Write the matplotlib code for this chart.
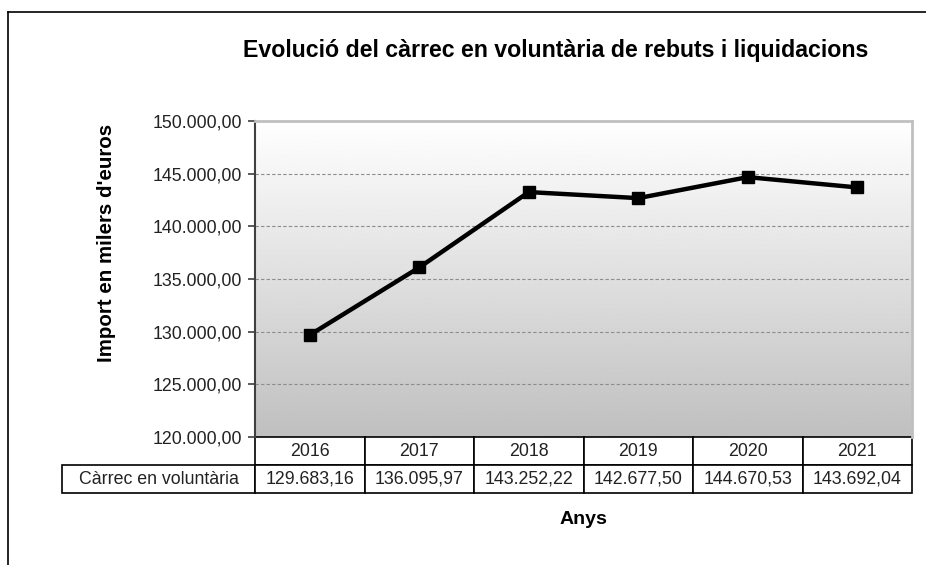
import numpy as np
import matplotlib.pyplot as plt
from matplotlib.lines import Line2D

plt.rcParams['font.family'] = ['Liberation Sans', 'DejaVu Sans']

# dades
anys = ["2016", "2017", "2018", "2019", "2020", "2021"]
carrec = [129683.16, 136095.97, 143252.22, 142677.50, 144670.53, 143692.04]
serie = "Càrrec en voluntària"
titol = "Evolució del càrrec en voluntària de rebuts i liquidacions"


def fmt(v):
    s = f"{v:,.2f}"
    return s.replace(",", "X").replace(".", ",").replace("X", ".")


W, H = 926, 565
fig = plt.figure(figsize=(W / 100, H / 100), dpi=100)

# plot area in pixels
L, R, T, B = 255, 912, 121, 437
ax = fig.add_axes([L / W, (H - B) / H, (R - L) / W, (B - T) / H])

x = np.arange(len(anys))
ax.set_xlim(-0.5, len(anys) - 0.5)
ax.set_ylim(120000, 150000)

# gradient background
grad = np.linspace(1, 0, 256).reshape(-1, 1)
ax.imshow(grad, cmap="gray", vmin=-3.0, vmax=1.0, aspect="auto",
          extent=[0, 1, 0, 1], transform=ax.transAxes, zorder=0)

ticks = np.arange(120000, 150001, 5000)
ax.set_yticks(ticks)
ax.set_yticklabels([fmt(t) for t in ticks], fontsize=12.8, color="#222222")
for t in ticks[1:-1]:
    ax.axhline(t, color="#8c8c8c", lw=0.8, ls=(0, (3, 2)), zorder=1)

ax.plot(x, carrec, color="black", lw=3.2, marker="s", markersize=8.6, zorder=3)

ax.set_xticks([])
ax.spines["top"].set_color("#c0c0c0")
ax.spines["top"].set_linewidth(2)
ax.spines["right"].set_color("#c0c0c0")
ax.spines["right"].set_linewidth(2)
ax.spines["left"].set_color("#404040")
ax.spines["left"].set_linewidth(1.5)
ax.spines["bottom"].set_visible(False)
ax.tick_params(axis="y", length=5, width=1.2, color="#404040", pad=4)

# data table
lab_w = L - 62
col_w = (R - L) / len(anys)
tot_w = lab_w + (R - L)
row_h = 28
tab = ax.table(cellText=[[""] + anys, [serie] + [fmt(v) for v in carrec]],
               colWidths=[lab_w / tot_w] + [col_w / tot_w] * len(anys),
               cellLoc="center",
               bbox=[-lab_w / (R - L), -2 * row_h / (B - T), tot_w / (R - L), 2 * row_h / (B - T)])
tab.auto_set_font_size(False)
for (r, c), cell in tab.get_celld().items():
    cell.set_fontsize(12.8)
    cell.set_linewidth(1.2)
    cell.set_facecolor("white")
    cell.get_text().set_color("#222222")
tab[0, 0].visible_edges = "open"

fig.text(106 / W, 1 - 243 / H, "Import en milers d'euros", fontsize=14.8,
         fontweight="bold", rotation=90, ha="center", va="center")
fig.text((L + R) / 2 / W, 1 - 519 / H, "Anys", fontsize=14, fontweight="bold",
         ha="center", va="center")
fig.text(556 / W, 1 - 50 / H, titol, fontsize=16.7, fontweight="bold",
         ha="center", va="center")

# outer frame
fig.add_artist(Line2D([8 / W, 1], [1 - 12 / H, 1 - 12 / H], color="black", lw=1.2))
fig.add_artist(Line2D([8 / W, 8 / W], [0, 1 - 12 / H], color="black", lw=1.2))

fig.savefig("out.png", dpi=100)
